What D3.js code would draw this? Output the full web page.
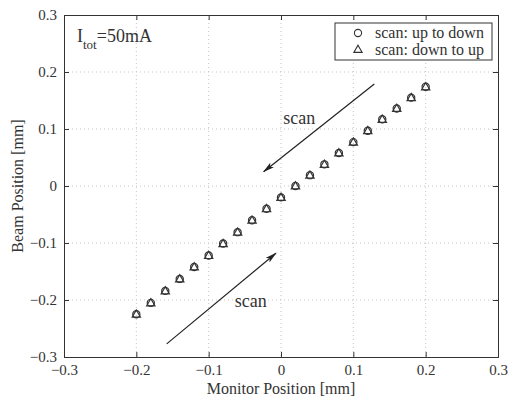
<!DOCTYPE html>
<html>
<head>
<meta charset="utf-8">
<script src="https://cdn.jsdelivr.net/npm/d3@7"></script>
<style>
  html, body { margin: 0; padding: 0; background: #fff; }
  svg text { font-family: "Liberation Serif", "Times New Roman", serif; fill: #333; }
</style>
</head>
<body>
<svg id="chart" width="509" height="400"></svg>
<script>
// Monitor position steps [mm]
const monitorPos = [-0.20, -0.18, -0.16, -0.14, -0.12, -0.10, -0.08, -0.06, -0.04, -0.02,
                    0.00, 0.02, 0.04, 0.06, 0.08, 0.10, 0.12, 0.14, 0.16, 0.18, 0.20];
// Measured beam position [mm], scan from top to bottom
const beamUpToDown = [-0.225, -0.205, -0.184, -0.163, -0.142, -0.122, -0.101, -0.081, -0.060, -0.040,
                      -0.020, 0.000, 0.019, 0.038, 0.058, 0.077, 0.097, 0.117, 0.136, 0.155, 0.174];
// Measured beam position [mm], scan from bottom to top
const beamDownToUp = [-0.226, -0.206, -0.185, -0.164, -0.143, -0.123, -0.102, -0.082, -0.061, -0.041,
                      -0.021, -0.001, 0.018, 0.037, 0.057, 0.076, 0.096, 0.116, 0.135, 0.154, 0.173];
const xTicks = [-0.3, -0.2, -0.1, 0, 0.1, 0.2, 0.3];
const yTicks = [-0.3, -0.2, -0.1, 0, 0.1, 0.2, 0.3];
const legendLabels = ["scan: up to down", "scan: down to up"];
// Scan direction arrows [x0, y0, x1, y1] in data units
const scanArrows = [[0.129, 0.179, -0.024, 0.025], [-0.158, -0.277, -0.007, -0.118]];
const scanLabelPos = [[0.003, 0.108], [-0.064, -0.212]];

const svg = d3.select("#chart");
const m = { left: 64, right: 498, top: 15, bottom: 357 };
const x = d3.scaleLinear().domain([-0.3, 0.3]).range([m.left, m.right]);
const y = d3.scaleLinear().domain([-0.3, 0.3]).range([m.bottom, m.top]);
const ink = "#333";
const fmt = d => d === 0 ? "0" : d3.format(".1f")(d).replace("-", "\u2212");

// dotted grid
const grid = svg.append("g").attr("stroke", "#c4c4c4").attr("stroke-width", 1)
  .attr("stroke-dasharray", "1,3");
grid.selectAll(".gx").data(xTicks.slice(1, -1)).join("line")
  .attr("x1", d => x(d)).attr("x2", d => x(d)).attr("y1", m.top).attr("y2", m.bottom);
grid.selectAll(".gy").data(yTicks.slice(1, -1)).join("line")
  .attr("y1", d => y(d)).attr("y2", d => y(d)).attr("x1", m.left).attr("x2", m.right);

// axes with inward ticks on all sides
const tl = 5;
const axB = svg.append("g").attr("transform", `translate(0,${m.bottom})`)
  .call(d3.axisBottom(x).tickValues(xTicks).tickSize(-tl).tickPadding(7).tickFormat(fmt));
const axT = svg.append("g").attr("transform", `translate(0,${m.top})`)
  .call(d3.axisTop(x).tickValues(xTicks).tickSize(-tl).tickFormat(""));
const axL = svg.append("g").attr("transform", `translate(${m.left},0)`)
  .call(d3.axisLeft(y).tickValues(yTicks).tickSize(-tl).tickPadding(7).tickFormat(fmt));
const axR = svg.append("g").attr("transform", `translate(${m.right},0)`)
  .call(d3.axisRight(y).tickValues(yTicks).tickSize(-tl).tickFormat(""));
[axB, axT, axL, axR].forEach(a => {
  a.selectAll("path.domain").attr("stroke", ink).attr("stroke-width", 1);
  a.selectAll(".tick line").attr("stroke", ink);
  a.selectAll("text").attr("font-size", 15).attr("fill", ink)
    .attr("font-family", '"Liberation Serif", "Times New Roman", serif');
});

// axis titles
svg.append("text").attr("x", (m.left + m.right) / 2).attr("y", 394)
  .attr("text-anchor", "middle").attr("font-size", 16).text("Monitor Position [mm]");
svg.append("text").attr("transform", `translate(23,${(m.top + m.bottom) / 2}) rotate(-90)`)
  .attr("text-anchor", "middle").attr("font-size", 16).text("Beam Position [mm]");

// markers
const tri = d3.symbol().type(d3.symbolTriangle).size(30);
const pts = svg.append("g").attr("fill", "none").attr("stroke", ink).attr("stroke-width", 1.2);
pts.selectAll("circle").data(monitorPos).join("circle")
  .attr("cx", d => x(d)).attr("cy", (d, i) => y(beamUpToDown[i])).attr("r", 3.6);
pts.selectAll("path").data(monitorPos).join("path")
  .attr("d", tri).attr("transform", (d, i) => `translate(${x(d)},${y(beamDownToUp[i])})`);

// scan direction arrows
svg.append("defs").append("marker").attr("id", "head")
  .attr("viewBox", "0 0 12 6").attr("refX", 11).attr("refY", 3)
  .attr("markerWidth", 12).attr("markerHeight", 6).attr("markerUnits", "userSpaceOnUse")
  .attr("orient", "auto")
  .append("path").attr("d", "M0,0 L12,3 L0,6 L3,3 Z").attr("fill", "#222");
svg.selectAll(".arrow").data(scanArrows).join("line")
  .attr("x1", d => x(d[0])).attr("y1", d => y(d[1]))
  .attr("x2", d => x(d[2])).attr("y2", d => y(d[3]))
  .attr("stroke", "#222").attr("stroke-width", 1.2).attr("marker-end", "url(#head)");
svg.selectAll(".scanlbl").data(scanLabelPos).join("text")
  .attr("x", d => x(d[0])).attr("y", d => y(d[1])).attr("font-size", 18).text("scan");

// current annotation
const it = svg.append("text").attr("x", 77).attr("y", 42).attr("font-size", 18);
it.append("tspan").text("I");
it.append("tspan").attr("font-size", 13).attr("dy", 7).text("tot");
it.append("tspan").attr("dy", -7).text("=50mA");

// legend
const lg = svg.append("g");
lg.append("rect").attr("x", 335).attr("y", 23).attr("width", 157).attr("height", 37)
  .attr("fill", "#fff").attr("stroke", ink).attr("stroke-width", 1);
lg.append("circle").attr("cx", 358).attr("cy", 33).attr("r", 3.6)
  .attr("fill", "none").attr("stroke", ink).attr("stroke-width", 1.1);
lg.append("path").attr("d", tri).attr("transform", "translate(358,50)")
  .attr("fill", "none").attr("stroke", ink).attr("stroke-width", 1.1);
lg.selectAll(".lt").data(legendLabels).join("text")
  .attr("x", 375).attr("y", (d, i) => 38 + i * 17).attr("font-size", 16).text(d => d);
</script>
</body>
</html>
